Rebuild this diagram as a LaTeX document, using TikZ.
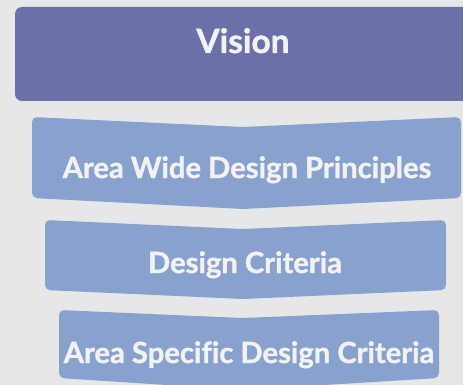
\documentclass[tikz,border=0pt]{standalone}
\usepackage{fontspec}
\setmainfont{Lato}[UprightFont=* Bold, UprightFeatures={FakeBold=1.2}, Ligatures=NoCommon]
\definecolor{bg}{HTML}{E6E7E9}
\definecolor{vis}{HTML}{6B71A8}
\definecolor{chev}{HTML}{88A2CD}
\definecolor{txt}{HTML}{F2F2F4}
\tikzset{
  chevbox/.style={fill=chev, rounded corners=5pt},
  lbl/.style={text=txt, anchor=base, inner sep=0pt, font=\fontsize{29.2}{31}\selectfont},
}
\begin{document}
\begin{tikzpicture}[x=1pt,y=-1pt]
\useasboundingbox (0,0) rectangle (463,385);
\clip (0,0) rectangle (463,385);
\fill[bg] (0,0) rectangle (463,385);
\fill[vis, rounded corners=7pt] (15,7) rectangle (480,101);
\fill[chevbox] (32,117) -- (243,127) -- (461,117) -- (461,198) -- (243,209) -- (32,198) -- cycle;
\fill[chevbox] (45,220) -- (243,229) -- (446,220) -- (446,290) -- (243,299) -- (45,290) -- cycle;
\fill[chevbox] (59,310) -- (243,318) -- (439,310) -- (439,378) -- (243,390) -- (59,378) -- cycle;
\node[lbl, font=\fontsize{33.5}{35}\selectfont] (vision) at (243,53) {Vision};
\node[lbl] (awdp) at (247,178) {Area Wide Design Principles};
\node[lbl] (dc) at (245,273) {Design Criteria};
\node[lbl] (asdc) at (249,363) {Area Specific Design Criteria};
\end{tikzpicture}
\end{document}
